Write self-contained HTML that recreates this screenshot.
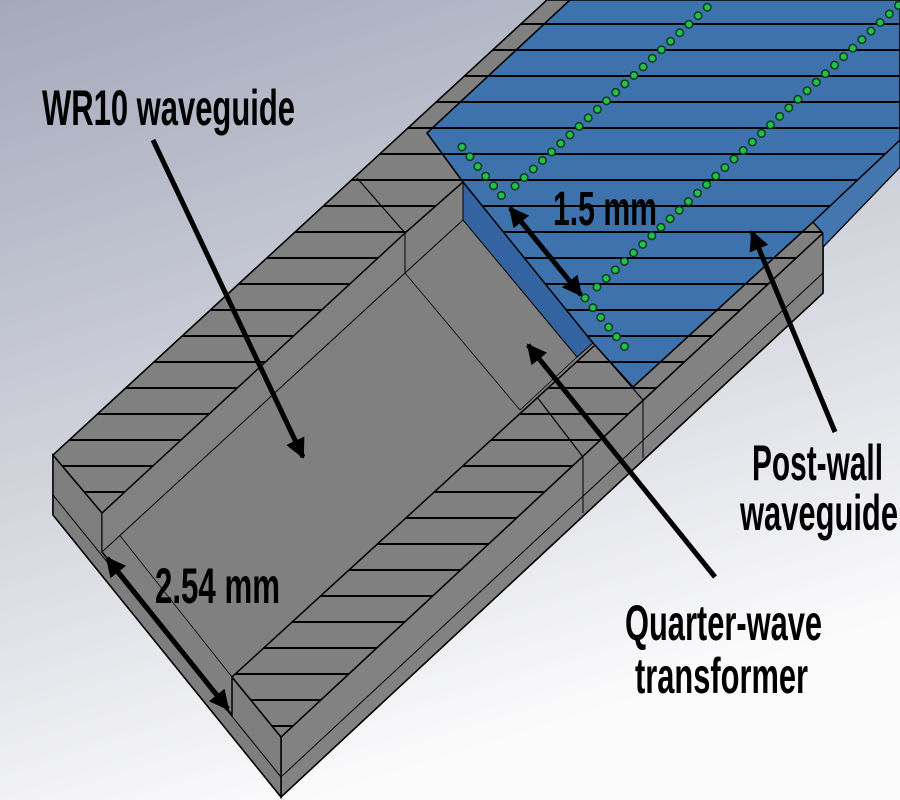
<!DOCTYPE html>
<html><head><meta charset="utf-8"><style>
html,body{margin:0;padding:0;width:900px;height:800px;overflow:hidden}
svg{display:block}
text{font-family:"Liberation Sans Narrow","Liberation Sans",sans-serif;font-weight:bold;fill:#000}
</style></head><body>
<svg width="900" height="800" viewBox="0 0 900 800" xmlns="http://www.w3.org/2000/svg">
<defs>
<linearGradient id="bg" x1="0" y1="0" x2="0.35" y2="1">
<stop offset="0" stop-color="#a3a8bb"/><stop offset="0.55" stop-color="#d2d4dc"/><stop offset="1" stop-color="#fbfbfc"/>
</linearGradient>
<clipPath id="cA"><polygon points="53,455 547,0 570,0 427,133 463,182 405,233 102,513"/></clipPath>
<clipPath id="cB"><polygon points="232,677 281,737 823,233 813,222 633,387 595,345"/></clipPath>
<clipPath id="cBlue"><polygon points="427,133 570,0 900,0 900,140 813,222 633,387 593,343 463,182"/></clipPath>
<g id="hl" stroke="#000" stroke-width="2">
<line x1="0" y1="24" x2="900" y2="24"/><line x1="0" y1="50" x2="900" y2="50"/><line x1="0" y1="76" x2="900" y2="76"/><line x1="0" y1="102" x2="900" y2="102"/><line x1="0" y1="128" x2="900" y2="128"/><line x1="0" y1="154" x2="900" y2="154"/><line x1="0" y1="180" x2="900" y2="180"/><line x1="0" y1="206" x2="900" y2="206"/><line x1="0" y1="232" x2="900" y2="232"/><line x1="0" y1="258" x2="900" y2="258"/><line x1="0" y1="284" x2="900" y2="284"/><line x1="0" y1="310" x2="900" y2="310"/><line x1="0" y1="336" x2="900" y2="336"/><line x1="0" y1="362" x2="900" y2="362"/><line x1="0" y1="388" x2="900" y2="388"/><line x1="0" y1="414" x2="900" y2="414"/><line x1="0" y1="440" x2="900" y2="440"/><line x1="0" y1="466" x2="900" y2="466"/><line x1="0" y1="492" x2="900" y2="492"/><line x1="0" y1="518" x2="900" y2="518"/><line x1="0" y1="544" x2="900" y2="544"/><line x1="0" y1="570" x2="900" y2="570"/><line x1="0" y1="596" x2="900" y2="596"/><line x1="0" y1="622" x2="900" y2="622"/><line x1="0" y1="648" x2="900" y2="648"/><line x1="0" y1="674" x2="900" y2="674"/><line x1="0" y1="700" x2="900" y2="700"/><line x1="0" y1="726" x2="900" y2="726"/>
</g>
<marker id="ah" viewBox="0 0 10 10" refX="9" refY="5" markerWidth="4" markerHeight="4" orient="auto-start-reverse">
<path d="M0,0 L10,5 L0,10 z" fill="#000"/></marker>
</defs>
<rect width="900" height="800" fill="url(#bg)"/>

<!-- base silhouette -->
<polygon points="53,455 547,0 900,0 900,167 823,247 823,293 281,797 53,515" fill="#808080" stroke="#000" stroke-width="1.5"/>
<!-- right side face -->
<polygon points="281,737 823,233 823,293 281,797" fill="#828282" stroke="#000" stroke-width="1.5"/>
<line x1="281" y1="777" x2="823" y2="273" stroke="#000" stroke-width="1"/>
<line x1="583" y1="457" x2="583" y2="513" stroke="#000" stroke-width="1"/>
<line x1="643" y1="400" x2="643" y2="458" stroke="#000" stroke-width="1"/>
<line x1="281" y1="737" x2="281" y2="797" stroke="#000" stroke-width="1"/>
<!-- front face -->
<polygon points="53,455 102,513 102,552 232,715 232,677 281,737 281,797 53,515" fill="#7e7e7e" stroke="#000" stroke-width="1.5"/>
<line x1="53" y1="495" x2="281" y2="777" stroke="#000" stroke-width="1"/>
<line x1="102" y1="513" x2="232" y2="677" stroke="#000" stroke-width="0.8"/>
<!-- wall inner faces / floor lines -->
<polygon points="102,513 405,233 405,273 102,552" fill="#818181" stroke="#000" stroke-width="1"/>
<line x1="405" y1="273" x2="463" y2="220" stroke="#000" stroke-width="1"/>
<line x1="405" y1="273" x2="520" y2="410" stroke="#000" stroke-width="0.8"/>
<line x1="520" y1="410" x2="577" y2="357" stroke="#000" stroke-width="0.8"/>

<!-- hatch regions -->
<polygon points="53,455 547,0 570,0 427,133 463,182 405,233 102,513" fill="#808080" stroke="#000" stroke-width="1.5"/>
<use href="#hl" clip-path="url(#cA)"/>
<line x1="357" y1="178" x2="405" y2="233" stroke="#000" stroke-width="1.2"/>
<line x1="405" y1="233" x2="405" y2="273" stroke="#000" stroke-width="1"/>
<polygon points="232,677 281,737 823,233 813,222 633,387 595,345" fill="#808080" stroke="#000" stroke-width="1.5"/>
<use href="#hl" clip-path="url(#cB)"/>
<line x1="537" y1="397" x2="583" y2="457" stroke="#000" stroke-width="1.2"/>
<line x1="595" y1="345" x2="643" y2="400" stroke="#000" stroke-width="1.2"/>

<!-- blue board -->
<polygon points="900,140 813,222 823,233 823,247 900,167" fill="#4477b0" stroke="#000" stroke-width="1"/>
<polygon points="463,182 463,220 577,357 593,343" fill="#3363a0" stroke="#000" stroke-width="1"/>
<polygon points="427,133 570,0 900,0 900,140 813,222 633,387 593,343 463,182" fill="#3d72ad" stroke="#000" stroke-width="1.5"/>
<use href="#hl" clip-path="url(#cBlue)"/>

<!-- posts -->
<g fill="none" stroke-linecap="round" stroke-dasharray="0 12.5">
<g stroke="#0a3a1a" stroke-width="9">
<line x1="462" y1="147" x2="506" y2="201"/><line x1="515" y1="186" x2="715" y2="0"/>
<line x1="585" y1="298" x2="629" y2="352"/><line x1="597" y1="287" x2="900" y2="4"/>
</g>
<g stroke="#22c04c" stroke-width="6">
<line x1="462" y1="147" x2="506" y2="201"/><line x1="515" y1="186" x2="715" y2="0"/>
<line x1="585" y1="298" x2="629" y2="352"/><line x1="597" y1="287" x2="900" y2="4"/>
</g>
</g>

<!-- arrows -->
<g stroke="#000" stroke-width="5" fill="none">
<line x1="153" y1="140" x2="303" y2="457" marker-end="url(#ah)"/>
<line x1="715" y1="577" x2="528" y2="345" marker-end="url(#ah)"/>
<line x1="835" y1="432" x2="752" y2="232" marker-end="url(#ah)"/>
<line x1="510" y1="208" x2="581" y2="295" marker-start="url(#ah)" marker-end="url(#ah)"/>
<line x1="107" y1="558" x2="228" y2="709" marker-start="url(#ah)" marker-end="url(#ah)"/>
</g>

<!-- labels -->
<text x="42" y="125" font-size="50" textLength="253" lengthAdjust="spacingAndGlyphs">WR10 waveguide</text>
<text x="553" y="225" font-size="48" textLength="104" lengthAdjust="spacingAndGlyphs">1.5 mm</text>
<text x="155" y="603" font-size="50" textLength="125" lengthAdjust="spacingAndGlyphs">2.54 mm</text>
<text x="752" y="480" font-size="50" textLength="131" lengthAdjust="spacingAndGlyphs">Post-wall</text>
<text x="740" y="530" font-size="50" textLength="158" lengthAdjust="spacingAndGlyphs">waveguide</text>
<text x="625" y="640" font-size="50" textLength="197" lengthAdjust="spacingAndGlyphs">Quarter-wave</text>
<text x="635" y="693" font-size="50" textLength="173" lengthAdjust="spacingAndGlyphs">transformer</text>
</svg>
</body></html>
